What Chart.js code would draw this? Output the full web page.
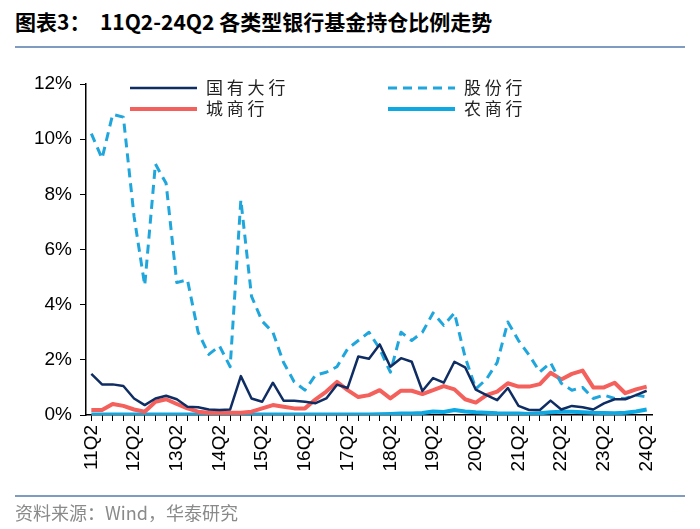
<!DOCTYPE html>
<html>
<head>
<meta charset="utf-8">
<script src="https://cdn.jsdelivr.net/npm/chart.js@4/dist/chart.umd.min.js"></script>
<style>
  html, body { margin: 0; padding: 0; background: #fff; }
  #wrap { position: relative; width: 700px; height: 529px; overflow: hidden; }
  #title { position: absolute; left: 15px; top: 6px; font: bold 21px "Noto Sans CJK SC", sans-serif; color: #000; white-space: nowrap; }
  .rule { position: absolute; left: 15px; width: 670px; height: 2px; background: #7f9cc0; }
  #source { position: absolute; left: 15px; top: 499px; font: 18px "Noto Sans CJK SC", sans-serif; color: #8a8a8a; }
  #chart { position: absolute; left: 0; top: 0; }
</style>
</head>
<body>
<div id="wrap">
  <div id="title">图表3：&nbsp;&nbsp;11Q2-24Q2 各类型银行基金持仓比例走势</div>
  <div class="rule" style="top:46px"></div>
  <canvas id="chart" width="700" height="529"></canvas>
  <div class="rule" style="top:495px"></div>
  <div id="source">资料来源：Wind，华泰研究</div>
</div>
<script>
const quarters = [
  '11Q2','11Q3','11Q4','12Q1','12Q2','12Q3','12Q4','13Q1','13Q2','13Q3','13Q4','14Q1','14Q2','14Q3','14Q4',
  '15Q1','15Q2','15Q3','15Q4','16Q1','16Q2','16Q3','16Q4','17Q1','17Q2','17Q3','17Q4','18Q1','18Q2','18Q3',
  '18Q4','19Q1','19Q2','19Q3','19Q4','20Q1','20Q2','20Q3','20Q4','21Q1','21Q2','21Q3','21Q4','22Q1','22Q2',
  '22Q3','22Q4','23Q1','23Q2','23Q3','23Q4','24Q1','24Q2'
];

// 国有大行
const stateBanks = [
  1.49, 1.11, 1.11, 1.05, 0.60, 0.36, 0.60, 0.70, 0.57, 0.30, 0.28, 0.20, 0.18, 0.20, 1.41,
  0.60, 0.48, 1.17, 0.52, 0.52, 0.48, 0.43, 0.60, 1.10, 0.98, 2.12, 2.04, 2.56, 1.75, 2.06,
  1.93, 0.87, 1.34, 1.17, 1.93, 1.73, 0.92, 0.72, 0.54, 0.98, 0.33, 0.18, 0.18, 0.52, 0.20,
  0.33, 0.28, 0.20, 0.42, 0.57, 0.57, 0.72, 0.88
];
// 股份行
const jointStock = [
  10.2, 9.3, 10.9, 10.8, 7.2, 4.7, 9.1, 8.4, 4.8, 4.9, 3.0, 2.2, 2.5, 1.75, 7.8,
  4.3, 3.4, 3.0, 1.9, 1.2, 0.9, 1.45, 1.55, 1.75, 2.4, 2.7, 3.0, 2.4, 1.55, 3.0,
  2.7, 3.0, 3.7, 3.25, 3.7, 2.1, 0.95, 1.3, 1.9, 3.37, 2.7, 2.17, 1.56, 1.9, 1.15,
  0.9, 1.0, 0.6, 0.72, 0.6, 0.6, 0.72, 0.66
];
// 城商行
const cityBanks = [
  0.18, 0.18, 0.40, 0.33, 0.20, 0.12, 0.48, 0.57, 0.40, 0.24, 0.12, 0.08, 0.08, 0.08, 0.08,
  0.12, 0.24, 0.36, 0.30, 0.24, 0.24, 0.57, 0.85, 1.20, 0.90, 0.65, 0.72, 0.90, 0.60, 0.88,
  0.88, 0.76, 0.90, 1.05, 0.93, 0.57, 0.45, 0.72, 0.85, 1.15, 1.03, 1.03, 1.12, 1.53, 1.29,
  1.49, 1.61, 1.00, 1.00, 1.17, 0.79, 0.93, 1.03
];
// 农商行
const ruralBanks = [
  0.02, 0.02, 0.02, 0.02, 0.02, 0.02, 0.02, 0.02, 0.02, 0.02, 0.02, 0.02, 0.02, 0.02, 0.02,
  0.02, 0.02, 0.02, 0.02, 0.02, 0.02, 0.02, 0.02, 0.02, 0.02, 0.02, 0.02, 0.03, 0.04, 0.05,
  0.05, 0.07, 0.13, 0.11, 0.18, 0.13, 0.10, 0.08, 0.06, 0.05, 0.05, 0.04, 0.06, 0.10, 0.12,
  0.12, 0.10, 0.08, 0.07, 0.06, 0.08, 0.13, 0.20
];

const yTicks = [0, 2, 4, 6, 8, 10, 12];

const NAVY = '#0f2d63';
const SKY = '#1fa6dc';
const RED = '#f4605c';
const CYAN = '#0ea8e2';

// legend drawn by hand so it sits inside the plot like the original
const legendPlugin = {
    id: 'cornerLegend',
    afterDraw(chart) {
        const ctx = chart.ctx;
        const items = [
            { ds: 0, x: 130, y: 88 },
            { ds: 1, x: 388, y: 88 },
            { ds: 2, x: 130, y: 109 },
            { ds: 3, x: 388, y: 109 }
        ];
        ctx.save();
        items.forEach(it => {
            const d = chart.data.datasets[it.ds];
            ctx.beginPath();
            ctx.strokeStyle = d.borderColor;
            ctx.lineWidth = d.borderWidth;
            ctx.setLineDash(d.borderDash || []);
            ctx.moveTo(it.x, it.y);
            ctx.lineTo(it.x + 67, it.y);
            ctx.stroke();
            ctx.setLineDash([]);
            ctx.fillStyle = '#222';
            ctx.font = '17px "Noto Sans CJK SC", sans-serif';
            ctx.textBaseline = 'middle';
            ctx.fillText(d.label.split('').join(' '), it.x + 76, it.y);
        });
        ctx.restore();
    }
};

new Chart(document.getElementById('chart'), {
    type: 'line',
    data: {
        labels: quarters,
        datasets: [
            { label: '国有大行', data: stateBanks, borderColor: NAVY, borderWidth: 2.5 },
            { label: '股份行', data: jointStock, borderColor: SKY, borderWidth: 3, borderDash: [9, 6] },
            { label: '城商行', data: cityBanks, borderColor: RED, borderWidth: 4 },
            { label: '农商行', data: ruralBanks, borderColor: CYAN, borderWidth: 4 }
        ]
    },
    options: {
        responsive: false,
        animation: false,
        events: [],
        layout: { padding: { top: 84, right: 48, left: 0, bottom: 0 } },
        elements: {
            point: { radius: 0 },
            line: { tension: 0, borderJoinStyle: 'round', borderCapStyle: 'butt' }
        },
        plugins: {
            legend: { display: false },
            tooltip: { enabled: false }
        },
        scales: {
            x: {
                offset: true,
                grid: { drawOnChartArea: false, tickLength: 6, color: '#000', tickColor: '#000' },
                border: { color: '#000', width: 1.5 },
                ticks: {
                    autoSkip: false,
                    minRotation: 90,
                    maxRotation: 90,
                    padding: 4,
                    color: '#000',
                    font: { family: '"Liberation Sans", Arial, sans-serif', size: 19 },
                    callback: (v, i) => (i % 4 === 0 ? quarters[i] : '')
                },
                afterFit: s => { s.height = 114; }
            },
            y: {
                min: 0,
                max: 12,
                afterBuildTicks: s => { s.ticks = yTicks.map(v => ({ value: v })); },
                grid: { drawOnChartArea: false, tickLength: 6, color: '#000', tickColor: '#000' },
                border: { color: '#000', width: 1.5 },
                ticks: {
                    padding: 8,
                    color: '#000',
                    font: { family: '"Liberation Sans", Arial, sans-serif', size: 19 },
                    callback: v => v + '%'
                },
                afterFit: s => { s.width = 86; }
            }
        }
    },
    plugins: [legendPlugin]
});
</script>
</body>
</html>
